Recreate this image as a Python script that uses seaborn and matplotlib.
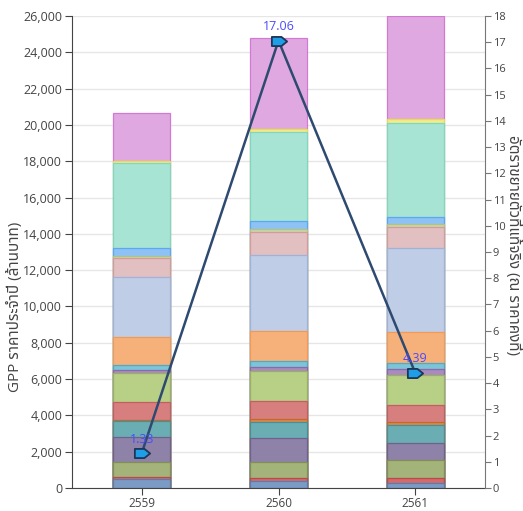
import numpy as np
import pandas as pd
import matplotlib
matplotlib.use('Agg')
import matplotlib.pyplot as plt
import seaborn as sns
from matplotlib import font_manager, ft2font
from matplotlib.markers import MarkerStyle
from matplotlib.path import Path
from matplotlib.ticker import FuncFormatter

years = ['2559', '2560', '2561']

# GPP components, bottom to top (million baht)
s01 = [480, 385, 300]
s02 = [145, 180, 240]
s03 = [825, 880, 1010]
s04 = [1345, 1320, 920]
s05 = [900, 880, 1010]
s06 = [60, 150, 150]
s07 = [975, 1010, 915]
s08 = [1600, 1655, 1690]
s09 = [180, 220, 315]
s10 = [275, 315, 330]
s11 = [1525, 1670, 1710]
s12 = [3305, 4145, 4630]
s13 = [1045, 1280, 1135]
s14 = [125, 165, 185]
s15 = [425, 460, 385]
s16 = [4685, 4920, 5180]
s17 = [145, 130, 220]
s18 = [2610, 5045, 5650]

growth = [1.33, 17.06, 4.39]

series = [s01, s02, s03, s04, s05, s06, s07, s08, s09,
          s10, s11, s12, s13, s14, s15, s16, s17, s18]
fills = ['#7b9bc4', '#d46a6a', '#a3b37a', '#8f82a8', '#6aaeb4', '#d9884a',
         '#d77f7f', '#b8cf86', '#a98bc0', '#7cc4d8', '#f6b17a', '#c0cde6',
         '#e2bfc0', '#c9d6a6', '#8ec2f5', '#a8e4d4', '#f2ec8a', '#e0a8e0']
edges = ['#5a7dad', '#b84a4a', '#7f8f55', '#6e6190', '#4a8f95', '#c26a2a',
         '#c45f5f', '#98b060', '#8a6aa8', '#55a8c0', '#f09a55', '#9fb2d8',
         '#d49a9c', '#b0c285', '#5aa8f0', '#80d6be', '#e8dc50', '#d27ad2']

# pick a font that has Thai glyphs
thai = set()
for f in font_manager.fontManager.ttflist:
    try:
        if ord('ก') in ft2font.FT2Font(f.fname).get_charmap():
            thai.add(f.name)
    except Exception:
        pass
pref = ['Noto Sans Thai', 'Sarabun', 'IBM Plex Sans Thai', 'Noto Sans Thai Looped',
        'Anuphan', 'Bai Jamjuree']
thai_font = [n for n in pref if n in thai][:1] or sorted(thai)[:1]

sns.set_style('white')
plt.rcParams['font.family'] = ['Open Sans'] + thai_font + ['DejaVu Sans']

fig = plt.figure(figsize=(5.23, 5.11), dpi=100)
ax = fig.add_axes([72 / 523, 23 / 511, 413 / 523, 472 / 511])

cum = np.cumsum(np.array(series), axis=0)
df = pd.DataFrame(cum.T, index=years)
for i in range(len(series) - 1, -1, -1):
    sns.barplot(x=years, y=df[i].values, color=fills[i], edgecolor=edges[i],
                linewidth=0.9, width=0.42, saturation=1, ax=ax, zorder=2)

ax.set_xlim(-0.51, 2.51)
ax.set_ylim(0, 26000)
ax.set_yticks(np.arange(0, 26001, 2000))
ax.yaxis.set_major_formatter(FuncFormatter(lambda v, p: f'{int(v):,}'))
ax.grid(axis='y', color='#e6e6e6', linewidth=1, zorder=0)
ax.set_axisbelow(True)
for sp in ['top', 'right']:
    ax.spines[sp].set_visible(False)
ax.spines['left'].set_color('#444444')
ax.spines['bottom'].set_color('#444444')
ax.tick_params(axis='y', direction='out', length=5, color='#444444',
               labelcolor='#444444', labelsize=9, left=True, pad=2)
ax.tick_params(axis='x', direction='out', length=5, color='#444444',
               labelcolor='#444444', labelsize=8.5, bottom=True, pad=1.5)
ax.set_xlabel('')
ax.set_ylabel('')
fig.text(15 / 523, 1 - 307 / 511, 'GPP ราคาประจำปี (ล้านบาท)', fontsize=11,
         color='#444444', rotation=90, ha='center', va='center')

ax2 = ax.twinx()
ax2.set_ylim(0, 18)
ax2.set_yticks(np.arange(0, 19, 1))
for sp in ['top', 'left', 'bottom']:
    ax2.spines[sp].set_visible(False)
ax2.spines['right'].set_color('#777777')
ax2.tick_params(axis='y', direction='out', length=4, color='#777777',
                labelcolor='#444444', labelsize=8, pad=1.5)
fig.text(513 / 523, 1 - 245 / 511, 'อัตราขยายตัวที่แท้จริง (ณ ราคาคงที่)',
         fontsize=11, color='#444444', rotation=270, ha='center', va='center')

arrow = MarkerStyle(Path([(-1, -0.6), (0.25, -0.6), (1, 0), (0.25, 0.6),
                          (-1, 0.6), (-1, -0.6)], closed=True))
xpos = np.arange(len(years))
sns.lineplot(x=xpos, y=growth, ax=ax2, color='#2e4a70', linewidth=1.8,
             marker=arrow, markersize=11, markerfacecolor='#1f9ee8',
             markeredgecolor='#1d3557', markeredgewidth=1.3)
for xi, g in zip(xpos, growth):
    ax2.annotate(f'{g:.2f}', (xi, g), xytext=(0, 14), textcoords='offset pixels',
                 ha='center', va='center', fontsize=9, color='#4a4aff')
ax2.set_xlim(-0.51, 2.51)

fig.savefig('out.png', dpi=100)
